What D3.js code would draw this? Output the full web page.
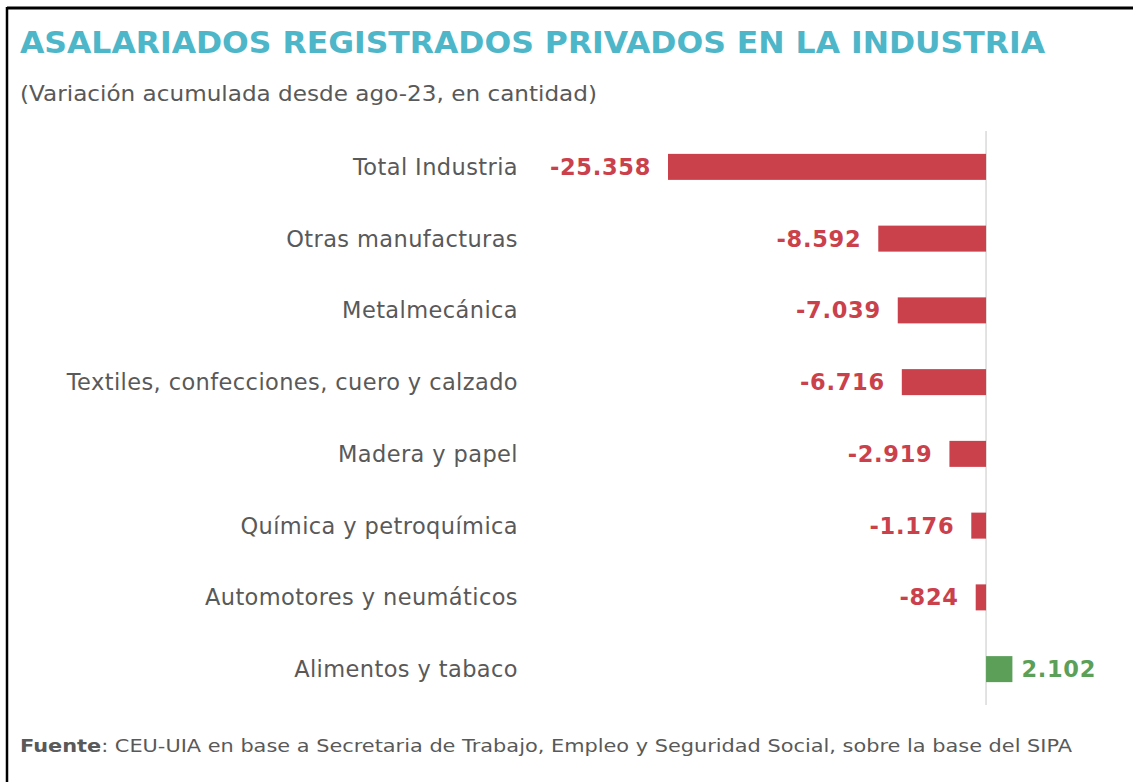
<!DOCTYPE html>
<html>
<head>
<meta charset="utf-8">
<script src="https://cdn.jsdelivr.net/npm/d3@7"></script>
<style>
  body { margin: 0; background: #fff; }
  text { font-family: "DejaVu Sans", Verdana, sans-serif; }
</style>
</head>
<body>
<script>
// canvas size
var width = 1133, height = 782;

// data
let categories = ["Total Industria", "Otras manufacturas", "Metalmecánica",
  "Textiles, confecciones, cuero y calzado", "Madera y papel",
  "Química y petroquímica", "Automotores y neumáticos", "Alimentos y tabaco"];
let values = [-25358, -8592, -7039, -6716, -2919, -1176, -824, 2102];
let valueLabels = ["-25.358", "-8.592", "-7.039", "-6.716", "-2.919", "-1.176", "-824", "2.102"];

let title = "ASALARIADOS REGISTRADOS PRIVADOS EN LA INDUSTRIA";
let subtitle = "(Variación acumulada desde ago-23, en cantidad)";

var red = "#cb414b", green = "#5b9f59";

var svg = d3.select("body").append("svg")
    .attr("width", width)
    .attr("height", height);

// frame (top and left edges only)
svg.append("line")
    .attr("x1", 7).attr("x2", width).attr("y1", 8).attr("y2", 8)
    .style("stroke", "#000").style("stroke-width", 3);
svg.append("line")
    .attr("x1", 7).attr("x2", 7).attr("y1", 7).attr("y2", height)
    .style("stroke", "#000").style("stroke-width", 2.5);

svg.append("text")
    .attr("x", 20).attr("y", 53)
    .attr("textLength", 1025).attr("lengthAdjust", "spacingAndGlyphs")
    .style("font-size", "30px").style("font-weight", "bold")
    .style("fill", "#4db6c8")
    .text(title);

svg.append("text")
    .attr("x", 20).attr("y", 101)
    .attr("textLength", 577).attr("lengthAdjust", "spacingAndGlyphs")
    .style("font-size", "22px")
    .style("fill", "#595959")
    .text(subtitle);

// scales
var x = d3.scaleLinear()
    .domain([d3.min(values), d3.max(values)])
    .range([668, 1012.4]);

var y = d3.scalePoint()
    .domain(categories)
    .range([131, 705])
    .padding(0.5);

var barH = 26;

// zero line
svg.append("line")
    .attr("x1", x(0)).attr("x2", x(0))
    .attr("y1", 131).attr("y2", 705)
    .style("stroke", "#d9d9d9").style("stroke-width", 1.5);

var rows = svg.selectAll(".row")
    .data(categories)
  .enter().append("g")
    .attr("class", "row");

rows.append("text")
    .attr("x", 518)
    .attr("y", function(d) { return y(d); })
    .attr("dy", "0.35em")
    .style("text-anchor", "end")
    .style("font-size", "22.5px")
    .style("letter-spacing", "0.4px")
    .style("fill", "#595959")
    .text(function(d) { return d; });

rows.append("rect")
    .attr("x", function(d, i) { return Math.min(x(0), x(values[i])); })
    .attr("y", function(d) { return y(d) - barH / 2; })
    .attr("width", function(d, i) { return Math.abs(x(values[i]) - x(0)); })
    .attr("height", barH)
    .style("fill", function(d, i) { return values[i] < 0 ? red : green; });

rows.append("text")
    .attr("x", function(d, i) {
      return values[i] < 0 ? x(values[i]) - 17 : x(values[i]) + 9;
    })
    .attr("y", function(d) { return y(d); })
    .attr("dy", "0.35em")
    .style("text-anchor", function(d, i) { return values[i] < 0 ? "end" : "start"; })
    .style("font-size", "22.5px").style("font-weight", "bold")
    .style("letter-spacing", "0.7px")
    .style("fill", function(d, i) { return values[i] < 0 ? red : green; })
    .text(function(d, i) { return valueLabels[i]; });

// source note
var note = svg.append("text")
    .attr("x", 20).attr("y", 752)
    .attr("textLength", 1052).attr("lengthAdjust", "spacingAndGlyphs")
    .style("font-size", "18px")
    .style("fill", "#595959");
note.append("tspan").style("font-weight", "bold").text("Fuente");
note.append("tspan").text(": CEU-UIA en base a Secretaria de Trabajo, Empleo y Seguridad Social, sobre la base del SIPA");
</script>
</body>
</html>
